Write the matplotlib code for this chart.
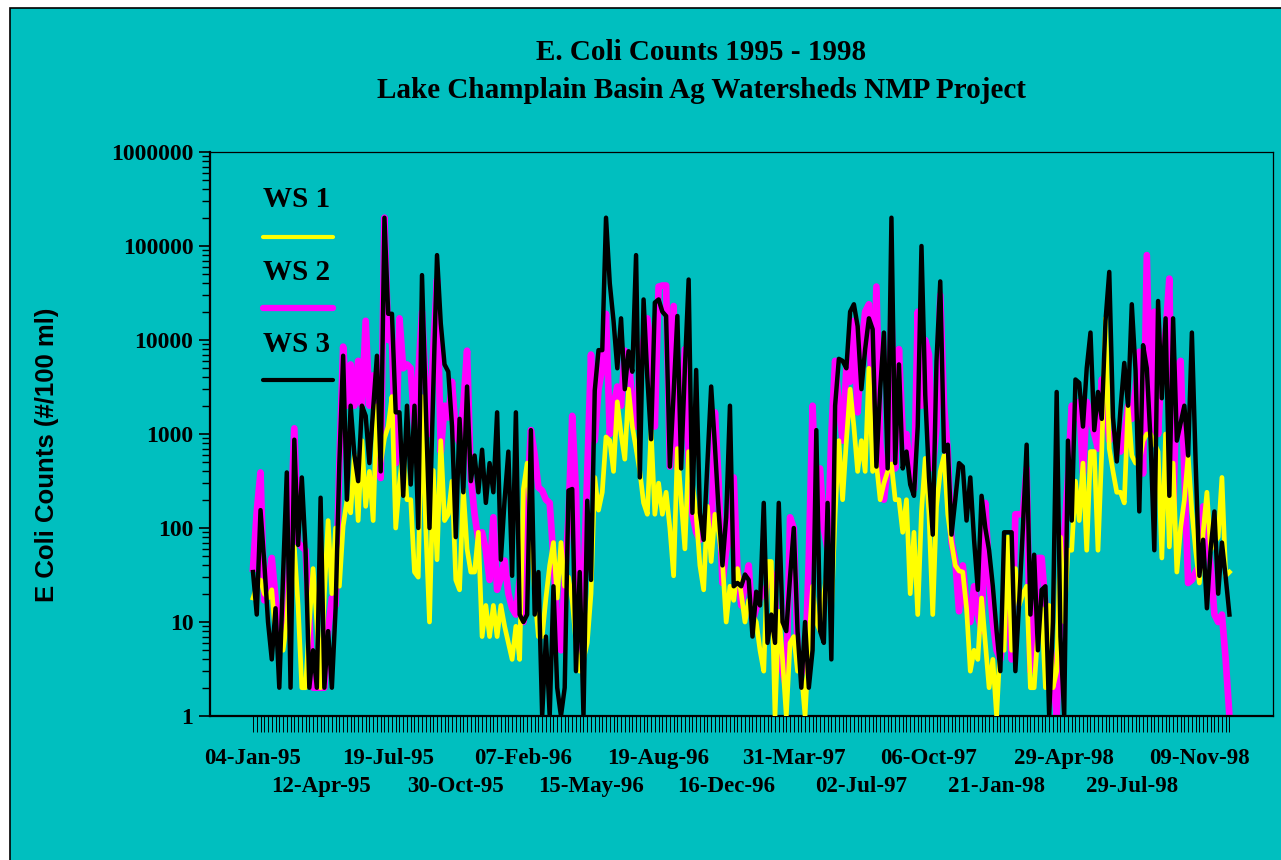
import numpy as np
import matplotlib
matplotlib.use('Agg')
import matplotlib.pyplot as plt
from matplotlib.patches import Rectangle
from matplotlib.ticker import LogLocator, NullFormatter

# E. coli counts (#/100 ml), one value per sample
ws1 = [18, 24, 28, 20, 18, 22, 7, 6, 5, 10, 58, 63, 15, 2, 2, 10, 37, 10, 2, 20,
       120, 20, 100, 24, 105, 195, 145, 590, 120, 850, 170, 400, 120, 2000, 490, 900, 1200, 2500, 100, 300,
       700, 200,
       200, 34, 30, 2500, 100, 10, 410, 46, 850, 120, 140, 315, 28, 22, 260, 60, 34, 34, 90, 7, 15, 7,
       15, 7, 15, 9, 6, 4, 9, 4, 260, 490, 100, 20, 7, 7, 18, 40, 70, 18, 70, 24, 30,
       17, 6, 3, 4, 6, 20, 345, 155, 240, 930, 850, 400, 2200, 1000, 540, 3000, 1200, 700, 400, 185,
       140, 1100, 140, 300, 140, 240, 100, 31, 700, 200, 60, 650, 300, 140, 40, 22, 170, 44, 140, 90,
       44, 10, 24,
       17, 37, 20, 10, 17, 12, 10, 5, 3, 44, 44, 1, 13, 4, 1, 6, 7, 3, 3, 1, 6, 24, 10, 8, 20, 37, 12,
       140, 850, 200, 850, 3000, 1200, 400, 850, 400, 5000, 400, 480, 200, 300, 400,
       480, 200, 200, 90, 200, 20, 90, 12, 150, 550, 140, 12, 170, 400, 590, 140, 70, 40, 35, 34, 14,
       3, 5, 4, 18, 6, 2, 4, 1, 6, 5, 80, 5, 37, 15, 20, 24, 2, 2, 8, 14, 2,
       15, 2, 3, 80, 10, 58, 58, 315, 120, 490, 58, 650, 650, 58, 650, 17000, 700, 400, 240, 240, 185,
       2000, 590, 490, 490, 850, 1000, 1000, 800, 650, 48, 1000, 63, 490, 34, 100, 200, 590, 150, 58,
       26, 90, 240, 58, 70, 80, 345, 31, 34]

ws2 = [37, 150, 390, 17, 24, 48, 18, 8, 9, 10, 100, 1150, 70, 63, 58, 10, 2, 2, 2, 2,
       8, 18, 15, 500, 8500, 2000, 5500, 2000, 6000, 2000, 16000, 2000, 4200, 2000, 340, 200000, 10000,
       10000, 490, 17000, 5000, 5500,
       5000, 1100, 4200, 20000, 3000, 1000, 8000, 44000, 640, 2000, 1500, 3600, 1000, 800, 2000, 7700,
       340, 140, 75, 90, 58, 28, 130, 22, 30, 45, 20, 14, 12, 28, 10, 200, 1100, 600, 270, 250, 200,
       185, 48, 10, 5, 28, 130,
       1560, 240, 5, 24, 380, 7000, 850, 3000, 5000, 19000, 1000, 2000, 3200, 2000, 7700, 7000, 2000,
       1200, 5500, 10000, 17000, 8000, 1200, 37000, 38000, 38000, 450, 23000, 430, 910, 8000, 510, 140,
       90, 75, 100, 140, 70, 1700, 300, 26, 58, 80,
       345, 37, 15, 25, 40, 10, 14, 18, 20, 25, 34, 18, 5, 3, 2, 130, 100, 5, 3, 3, 48, 2000, 130, 430,
       100, 58, 1000, 6000, 2000, 850, 5000, 3600, 16000, 1700, 8000, 20000, 24000, 1200, 37000, 850,
       200, 430,
       20000, 430, 8000, 1000, 1000, 400, 260, 20000, 2000, 10000, 7000, 430, 1200, 30000, 2000, 650,
       70, 45, 13, 40, 15, 10, 24, 12, 8, 185, 30, 10, 5, 4, 8, 24, 4, 140, 140, 140, 430, 3, 8, 48,
       48, 15,
       8, 3, 1, 15, 80, 345, 2000, 1500, 2200, 380, 2200, 1500, 1000, 700, 3800, 2200, 850, 1000, 900,
       650, 1000, 2000, 1450, 3000, 7500, 380, 80000, 1000, 20000, 1000, 6000, 12000, 45000, 120, 5000,
       6000, 400, 26, 28, 34, 40, 170, 70, 40, 12, 10, 12, 4, 1]

ws3 = [34, 12, 155, 43, 10, 4, 14, 2, 31, 390, 2, 870, 66, 345, 58, 2, 5, 2, 210, 2,
       8, 2, 14, 500, 6800, 200, 2000, 600, 315, 2000, 1560, 490, 1870, 6800, 400, 200000, 19000,
       19000, 1700, 1700, 220, 2000,
       290, 2000, 100, 49000, 2000, 100, 3000, 80000, 15000, 5500, 4600, 1200, 80, 1450, 240, 3200,
       315, 590, 240, 680, 185, 490, 240, 1700, 46, 200, 650, 31, 1700, 12, 10, 12, 1100, 12, 34, 1,
       7, 1, 24, 2, 1, 2, 250,
       260, 3, 34, 1, 195, 28, 2900, 7800, 7800, 200000, 40000, 16000, 5000, 17000, 3000, 7600, 4600,
       80000, 345, 27000, 4000, 880, 25000, 27000, 20000, 18000, 450, 2700, 18000, 430, 5000, 44000,
       145, 4800, 145, 75, 500, 3200, 740, 150, 40, 130, 2000,
       24, 26, 24, 32, 28, 7, 21, 15, 185, 6, 12, 6, 185, 10, 8, 30, 100, 8, 2, 10, 2, 5, 1100, 8, 6,
       185, 4, 2000, 6300, 6000, 5000, 20000, 24000, 14000, 3000, 8000, 17000, 13000, 450, 3000,
       12000, 430,
       200000, 490, 5500, 430, 650, 290, 220, 1200, 100000, 2600, 345, 85, 6000, 42000, 650, 770, 85,
       200, 490, 450, 120, 345, 75, 22, 220, 100, 58, 24, 8, 3, 90, 90, 90, 3, 16, 100, 770, 12, 52,
       5, 22, 24,
       1, 10, 2800, 7, 1, 850, 120, 3800, 3500, 1200, 5000, 12000, 1100, 2800, 1450, 16000, 53000,
       1500, 510, 1850, 5700, 2000, 24000, 4700, 150, 8800, 5000, 850, 58, 26000, 2400, 17000, 220,
       17000, 850, 1300, 2000, 590, 12000, 500, 31, 75, 14, 60, 150, 20, 70, 30, 12]

date_labels = ['04-Jan-95', '12-Apr-95', '19-Jul-95', '30-Oct-95', '07-Feb-96',
               '15-May-96', '19-Aug-96', '16-Dec-96', '31-Mar-97', '02-Jul-97',
               '06-Oct-97', '21-Jan-98', '29-Apr-98', '29-Jul-98', '09-Nov-98']
label_step = 18  # samples between category labels

series_names = ['WS 1', 'WS 2', 'WS 3']
series_colors = ['#FFFF00', '#FF00FF', '#000000']

bg = '#00BFBF'
serif = 'Liberation Serif'
W, H = 1281, 860

fig = plt.figure(figsize=(W / 100, H / 100), dpi=100)
fig.patch.set_facecolor('white')
# chart area with black frame (only top/left edges visible)
fig.add_artist(Rectangle((10 / W, -0.02), 1.05, 1 - 8 / H + 0.02, transform=fig.transFigure,
                         facecolor=bg, edgecolor='black', lw=1.2, zorder=0))

ax = fig.add_axes([210 / W, (H - 716) / H, 1063 / W, 564 / H])
ax.set_facecolor(bg)

x = np.arange(len(ws1))
ax.plot(x, ws2, color=series_colors[1], lw=4.8, zorder=2, solid_joinstyle='round')
ax.plot(x, ws1, color=series_colors[0], lw=3.4, zorder=3, solid_joinstyle='round')
ax.plot(x, ws3, color=series_colors[2], lw=3.2, zorder=4, solid_joinstyle='round')

ax.set_yscale('log')
ax.set_ylim(1, 1e6)
ax.set_xlim(-11.45, 271.6)

# y axis: decades with plain labels
decades = [10 ** k for k in range(7)]
ax.set_yticks(decades, labels=[str(d) for d in decades])
ax.yaxis.set_minor_locator(LogLocator(base=10, subs=range(2, 10)))
ax.yaxis.set_minor_formatter(NullFormatter())
ax.tick_params(axis='y', which='major', direction='out', length=8, width=1.2, pad=4,
               labelsize=17)
ax.tick_params(axis='y', which='minor', direction='out', length=6, width=1.0)

# x axis: a tick per sample, labels every label_step samples on two rows
pos = [label_step * j for j in range(len(date_labels))]
ax.set_xticks(pos, labels=[d if j % 2 == 0 else '' for j, d in enumerate(date_labels)])
ax.set_xticks(x, minor=True)
ax.tick_params(axis='x', which='both', direction='out', length=11.5, width=0.7, pad=11.5,
               labelsize=16.5)
for t in ax.get_xticklabels() + ax.get_yticklabels():
    t.set_fontfamily(serif)
    t.set_fontweight('bold')
for j, d in enumerate(date_labels):
    if j % 2 == 1:
        ax.annotate(d, xy=(pos[j], 0), xycoords=('data', 'axes fraction'),
                    xytext=(0, -43.5), textcoords='offset points', ha='center', va='top',
                    fontsize=16.5, fontweight='bold', family=serif)

for side in ['left', 'bottom']:
    ax.spines[side].set_linewidth(1.6)
for side in ['top', 'right']:
    ax.spines[side].set_linewidth(0.9)

# legend drawn as in the original: label above a line sample
leg_y = [(0.915, 0.849), (0.787, 0.723), (0.658, 0.596)]
leg_lw = [3.0, 4.5, 3.0]
for name, col, (ty, ly), lw in zip(series_names, series_colors, leg_y, leg_lw):
    ax.text(0.05, ty, name, transform=ax.transAxes, ha='left', va='center',
            fontsize=21, fontweight='bold', family=serif)
    ax.plot([0.05, 0.1157], [ly, ly], transform=ax.transAxes, color=col, lw=lw,
            solid_capstyle='round', clip_on=False, zorder=5)

fig.text(701 / W, 1 - 52 / H, 'E. Coli Counts 1995 - 1998', ha='center', va='center',
         fontsize=21, fontweight='bold', family=serif)
fig.text(701 / W, 1 - 90 / H, 'Lake Champlain Basin Ag Watersheds NMP Project', ha='center',
         va='center', fontsize=21, fontweight='bold', family=serif)
fig.text(47 / W, 1 - 455 / H, 'E Coli Counts (#/100 ml)', rotation=90, ha='center', va='center',
         fontsize=18.5, fontweight='bold', family='Liberation Sans')

fig.savefig('out.png', dpi=100)
